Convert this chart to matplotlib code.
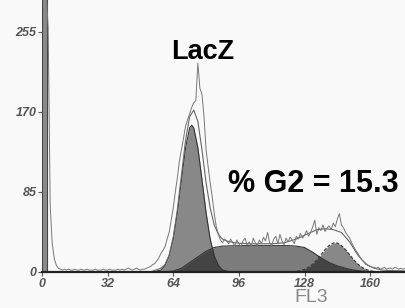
import numpy as np
import matplotlib
matplotlib.use("Agg")
import matplotlib.pyplot as plt

plt.rcParams['font.family'] = ['Liberation Sans', 'DejaVu Sans']

# raw FL3 histogram, one count per channel 0..178 (values >289 are off scale)
raw_counts = [
    300, 300, 300, 260, 70, 30, 14, 7, 4, 3,
    2, 3, 2, 3, 2, 2, 3, 2, 2, 3,
    2, 2, 3, 2, 2, 2, 3, 2, 2, 2,
    3, 2, 2, 3, 2, 2, 2, 3, 2, 3,
    2, 3, 4, 3, 2, 3, 4, 3, 2, 3,
    3, 4, 5, 6, 8, 9, 12, 15, 20, 23,
    27, 35, 42, 55, 68, 85, 100, 118, 130, 142,
    155, 162, 168, 175, 180, 182, 222, 195, 189, 165,
    130, 112, 95, 80, 62, 48, 40, 34, 31, 35,
    33, 30, 35, 31, 28, 34, 30, 27, 33, 36,
    29, 32, 27, 36, 31, 28, 34, 30, 37, 33,
    42, 31, 28, 35, 38, 30, 40, 33, 29, 36,
    32, 37, 34, 30, 38, 35, 41, 36, 39, 44,
    38, 42, 48, 55, 40, 47, 44, 50, 43, 47,
    49, 45, 52, 48, 56, 62, 50, 47, 42, 39,
    36, 31, 27, 23, 20, 16, 13, 11, 9, 7,
    6, 5, 5, 4, 5, 3, 4, 5, 3, 4,
    4, 3, 5, 4, 3, 4, 3, 4, 3,
]

# fitted components
g1_ch = [56, 58, 60, 62, 64, 66, 68, 70, 72, 73, 74, 76, 78, 80, 82, 84, 86, 88, 90, 92]
g1_val = [1, 2, 7, 17, 35, 63, 98, 132, 153, 156, 153, 132, 98, 63, 35, 17, 7, 2, 1, 0]

s_ch = [60, 64, 68, 72, 76, 80, 84, 88, 96, 104, 112, 120, 124, 128, 132, 136, 140, 144, 148, 152, 156, 160, 164]
s_val = [0, 1, 4, 10, 16, 22, 26, 27.5, 28, 28, 28, 28, 27.5, 26, 21, 15, 10, 6.5, 4, 2, 1, 0.3, 0]

g2_ch = [122, 124, 126, 128, 130, 132, 134, 136, 138, 140, 142, 143, 144, 146, 148, 150, 152, 154, 156, 158, 160, 162, 164, 166]
g2_val = [0.2, 0.6, 1.4, 2.7, 5, 8.4, 12.9, 18.3, 23.7, 28.1, 30.7, 31, 30.7, 28.1, 23.7, 18.3, 12.9, 8.4, 5, 2.7, 1.4, 0.6, 0.2, 0]

env_ch = [54, 58, 60, 62, 64, 66, 68, 70, 72, 74, 76, 78, 80, 82, 84, 86, 88, 90, 94, 100,
          106, 112, 118, 124, 130, 134, 138, 142, 146, 150, 154, 158, 162, 166, 170, 178]
env_val = [1, 4, 8, 18, 37, 66, 103, 140, 165, 172, 160, 130, 95, 68, 50, 40, 35, 33, 31, 30,
           30, 30, 31, 35, 41, 45, 46, 45, 42, 32, 18, 8, 4, 2, 1.5, 1]

tick_x = [0, 32, 64, 96, 128, 160]
tick_y = [0, 85, 170, 255]

fig = plt.figure(figsize=(4.05, 3.08), dpi=100, facecolor='#f9f9f9')
ax = fig.add_axes([42 / 405, 36 / 308, 1 - 42 / 405, 1 - 36 / 308])
ax.set_facecolor('#f9f9f9')

ax.fill_between(s_ch, s_val, color='black', alpha=0.5, lw=0)
ax.fill_between(g1_ch, g1_val, color='black', alpha=0.45, lw=0)
ax.fill_between(g2_ch, g2_val, color='black', alpha=0.45, lw=0)
ax.plot(s_ch, s_val, color='#333333', lw=0.8)
ax.plot(g1_ch, g1_val, color='#333333', lw=0.8)
ax.plot(g2_ch, g2_val, color='#333333', lw=0.8, ls=(0, (3, 1.5)))

ax.plot(env_ch, env_val, color='#666666', lw=0.8)
ax.plot(np.arange(len(raw_counts)), raw_counts, color='#777777', lw=0.7)

ax.bar([0], [raw_counts[0]], width=2.5, align='edge', color='#8a8a8a', edgecolor='#444444', lw=0.8)

ax.set_xlim(0, 177)
ax.set_ylim(0, 289)
for s in ['top', 'right', 'left']:
    ax.spines[s].set_visible(False)
ax.spines['bottom'].set_linewidth(1.6)
ax.spines['bottom'].set_color('#222222')

ax.set_xticks(tick_x)
ax.set_yticks(tick_y)
ax.set_xticklabels([str(t) for t in tick_x], fontsize=9, style='italic', fontweight='bold', color='#555555')
ax.set_yticklabels([str(t) for t in tick_y], fontsize=9, style='italic', fontweight='bold', color='#555555')
ax.tick_params(axis='both', length=3, width=0.8, color='#555555', pad=1)

ax.text(78.5, 234, 'LacZ', fontsize=19.5, fontweight='bold', ha='center', va='center')
ax.text(90.5, 93.5, '% G2 = 15.3', fontsize=22, fontweight='bold', ha='left', va='center')
fig.text(311 / 405, 1 - 297 / 308, 'FL3', fontsize=14, color='#888888', ha='center', va='center')

plt.savefig('out.png', dpi=100, facecolor=fig.get_facecolor())
